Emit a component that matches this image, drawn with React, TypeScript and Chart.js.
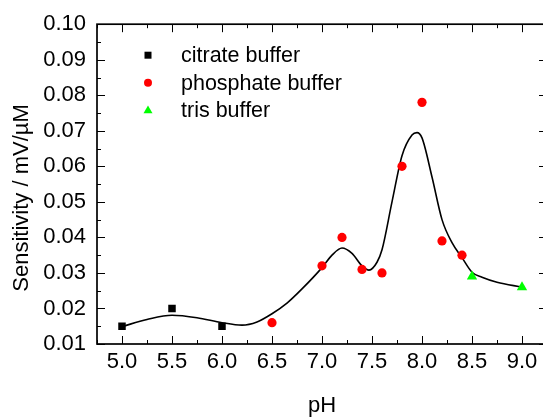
import React, { useEffect, useRef } from 'react';
import { Chart, registerables } from 'chart.js';

Chart.register(...registerables);

// ---- data ----
const citratePH = [5.0, 5.5, 6.0];
const citrateSens = [0.015, 0.02, 0.015];

const phosphatePH = [6.5, 7.0, 7.2, 7.4, 7.6, 7.8, 8.0, 8.2, 8.4];
const phosphateSens = [0.016, 0.032, 0.04, 0.031, 0.03, 0.06, 0.078, 0.039, 0.035];

const trisPH = [8.5, 9.0];
const trisSens = [0.029, 0.026];

// fitted curve
const fitPH = [5.0, 5.25, 5.5, 5.75, 6.0, 6.2, 6.35, 6.5, 6.65, 6.8, 7.0, 7.1, 7.2, 7.3, 7.4, 7.47, 7.55, 7.6, 7.7, 7.8, 7.9, 7.95, 8.0, 8.1, 8.2, 8.3, 8.4, 8.5, 8.6, 8.75, 9.0];
const fitSens = [0.0149, 0.0169, 0.0181, 0.0174, 0.016, 0.0153, 0.0162, 0.0185, 0.0215, 0.0255, 0.0315, 0.035, 0.037, 0.0355, 0.032, 0.0308, 0.033, 0.0365, 0.05, 0.063, 0.0688, 0.0695, 0.068, 0.057, 0.045, 0.0385, 0.0343, 0.0302, 0.0288, 0.0274, 0.026];

const xTickValues = [5.0, 5.5, 6.0, 6.5, 7.0, 7.5, 8.0, 8.5, 9.0];
const yTickValues = [0.01, 0.02, 0.03, 0.04, 0.05, 0.06, 0.07, 0.08, 0.09, 0.1];
const legendLabels = ['citrate buffer', 'phosphate buffer', 'tris buffer'];
const xTitle = 'pH';
const yTitle = 'Sensitivity / mV/\u00B5M';

const FONT = "'Liberation Sans', Arial, sans-serif";
const W = 560;
const H = 419;

function toPoints(xs: number[], ys: number[]) {
  return xs.map((x, i) => ({ x, y: ys[i] }));
}

function drawMarker(ctx: CanvasRenderingContext2D, kind: string, x: number, y: number, s: number, color: string) {
  ctx.save();
  ctx.fillStyle = color;
  ctx.beginPath();
  if (kind === 'rect') {
    ctx.rect(x - s / 2, y - s / 2, s, s);
  } else if (kind === 'circle') {
    ctx.arc(x, y, s / 2, 0, Math.PI * 2);
  } else {
    const h = s * 0.87;
    ctx.moveTo(x, y - h * 0.6);
    ctx.lineTo(x + s / 2, y + h * 0.4);
    ctx.lineTo(x - s / 2, y + h * 0.4);
    ctx.closePath();
  }
  ctx.fill();
  ctx.restore();
}

const framePlugin = {
  id: 'framePlugin',
  afterDraw(chart: any) {
    const ctx: CanvasRenderingContext2D = chart.ctx;
    const { left, right, top, bottom } = chart.chartArea;
    const xs = chart.scales.x;
    const ys = chart.scales.y;
    ctx.save();
    // ticks (inward)
    ctx.strokeStyle = '#000';
    ctx.lineWidth = 1;
    const majorLen = 8;
    const minorLen = 4;
    const xAll: Array<[number, boolean]> = [];
    xTickValues.forEach((v, i) => {
      xAll.push([v, true]);
      const step = i > 0 ? v - xTickValues[i - 1] : xTickValues[1] - xTickValues[0];
      xAll.push([v - step / 2, false]);
      if (i === xTickValues.length - 1) xAll.push([v + step / 2, false]);
    });
    xAll.forEach(([v, major]) => {
      const px = Math.round(xs.getPixelForValue(v)) + 0.5;
      if (px < left - 0.5 || px > right + 0.5) return;
      const len = major ? majorLen : minorLen;
      ctx.beginPath();
      ctx.moveTo(px, bottom);
      ctx.lineTo(px, bottom - len);
      ctx.moveTo(px, top);
      ctx.lineTo(px, top + len);
      ctx.stroke();
    });
    const yAll: Array<[number, boolean]> = [];
    yTickValues.forEach((v, i) => {
      yAll.push([v, true]);
      if (i > 0) yAll.push([(v + yTickValues[i - 1]) / 2, false]);
    });
    yAll.forEach(([v, major]) => {
      const py = Math.round(ys.getPixelForValue(v)) + 0.5;
      const len = major ? majorLen : minorLen;
      ctx.beginPath();
      ctx.moveTo(left, py);
      ctx.lineTo(left + len, py);
      ctx.moveTo(right, py);
      ctx.lineTo(right - len, py);
      ctx.stroke();
    });
    // frame
    ctx.lineWidth = 1.7;
    ctx.strokeRect(left, top, right - left, bottom - top);

    // legend
    const kinds = ['rect', 'circle', 'triangle'];
    const colors = ['#000000', '#ff0000', '#00ff00'];
    const sizes = [7, 8, 9];
    ctx.font = `21.5px ${FONT}`;
    ctx.fillStyle = '#000';
    ctx.textAlign = 'left';
    ctx.textBaseline = 'middle';
    legendLabels.forEach((lab, i) => {
      const yy = top + 31 + i * 27.5;
      drawMarker(ctx, kinds[i], left + 51, yy, sizes[i], colors[i]);
      ctx.fillStyle = '#000';
      ctx.fillText(lab, left + 84, yy + 1);
    });

    // axis titles
    ctx.font = `22px ${FONT}`;
    ctx.textAlign = 'center';
    ctx.textBaseline = 'middle';
    ctx.fillText(xTitle, (left + right) / 2, bottom + 62);
    ctx.save();
    ctx.translate(22, 198);
    ctx.rotate(-Math.PI / 2);
    ctx.fillText(yTitle, 0, 0);
    ctx.restore();
    ctx.restore();
  },
};

export default function App() {
  const ref = useRef<HTMLCanvasElement | null>(null);
  useEffect(() => {
    if (!ref.current) return;
    const chart = new Chart(ref.current, {
      type: 'scatter',
      data: {
        datasets: [
          {
            label: 'fit',
            data: toPoints(fitPH, fitSens),
            showLine: true,
            borderColor: '#000',
            borderWidth: 1.6,
            pointRadius: 0,
            tension: 0.4,
            cubicInterpolationMode: 'monotone',
            order: 10,
          } as any,
          {
            label: legendLabels[0],
            data: toPoints(citratePH, citrateSens),
            pointStyle: 'rect',
            pointRadius: 5.3,
            backgroundColor: '#000000',
            borderColor: '#000000',
            borderWidth: 0,
            order: 1,
          },
          {
            label: legendLabels[1],
            data: toPoints(phosphatePH, phosphateSens),
            pointStyle: 'circle',
            pointRadius: 4.6,
            backgroundColor: '#ff0000',
            borderColor: '#ff0000',
            borderWidth: 0,
            order: 1,
          },
          {
            label: legendLabels[2],
            data: toPoints(trisPH, trisSens),
            pointStyle: 'triangle',
            pointRadius: 6,
            backgroundColor: '#00ff00',
            borderColor: '#00ff00',
            borderWidth: 0,
            order: 1,
          },
        ],
      },
      options: {
        responsive: false,
        animation: false,
        devicePixelRatio: 1,
        layout: { padding: { top: 20, right: W - 547, left: 0, bottom: 0 } },
        plugins: { legend: { display: false }, tooltip: { enabled: false } },
        scales: {
          x: {
            type: 'linear',
            min: 4.75,
            max: 9.25,
            afterBuildTicks: (s: any) => {
              s.ticks = xTickValues.map((v) => ({ value: v }));
            },
            afterFit: (s: any) => {
              s.height = 75;
              s.paddingLeft = 0;
              s.paddingRight = 0;
            },
            ticks: {
              callback: (v: any) => Number(v).toFixed(1),
              font: { family: FONT, size: 22 },
              color: '#000',
              padding: 5,
              maxRotation: 0,
              autoSkip: false,
            },
            grid: { display: false, drawTicks: false },
            border: { display: false },
          },
          y: {
            type: 'linear',
            min: 0.01,
            max: 0.1,
            afterBuildTicks: (s: any) => {
              s.ticks = yTickValues.map((v) => ({ value: v }));
            },
            afterFit: (s: any) => {
              s.width = 97;
            },
            ticks: {
              callback: (v: any) => Number(v).toFixed(2),
              font: { family: FONT, size: 22 },
              color: '#000',
              padding: 11,
              autoSkip: false,
            },
            grid: { display: false, drawTicks: false },
            border: { display: false },
          },
        },
      },
      plugins: [framePlugin],
    });
    return () => chart.destroy();
  }, []);
  return (
    <div style={{ position: 'absolute', left: 0, top: 0, width: 543, height: H, overflow: 'hidden', background: '#fff' }}>
      <canvas ref={ref} width={W} height={H} style={{ width: W, height: H, display: 'block' }} />
    </div>
  );
}
